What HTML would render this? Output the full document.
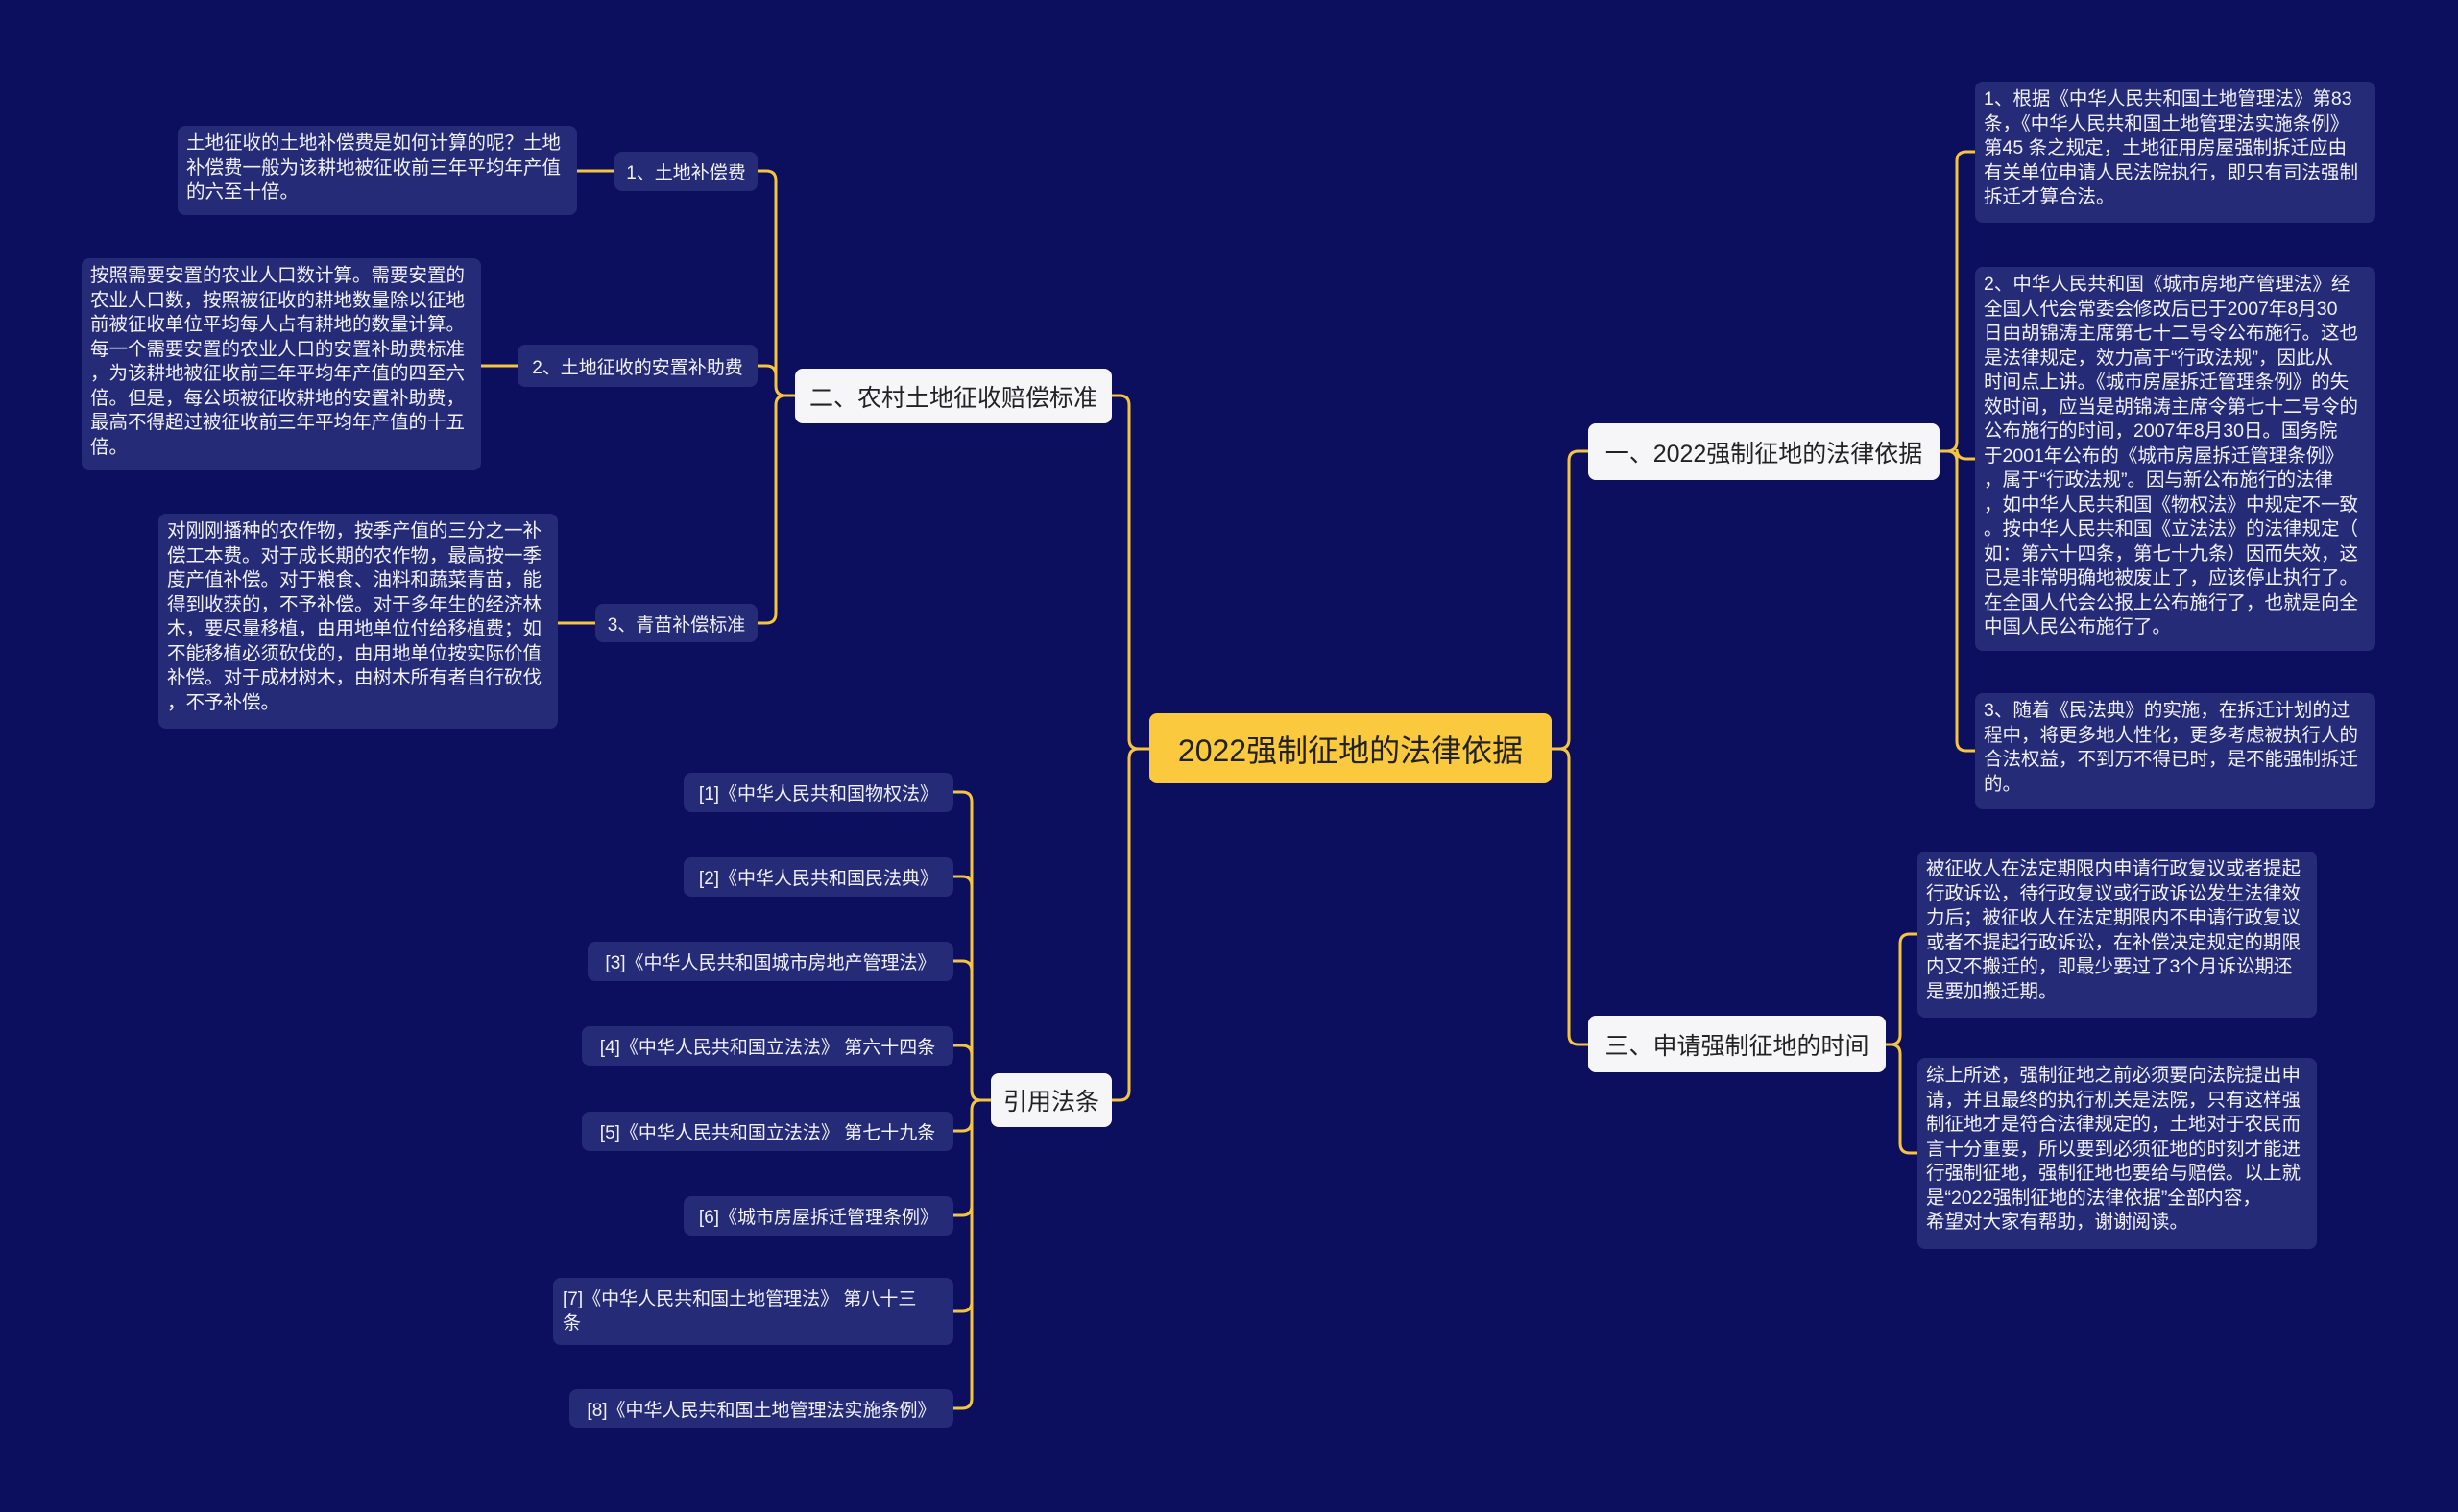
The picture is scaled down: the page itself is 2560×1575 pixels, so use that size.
<!DOCTYPE html>
<html><head><meta charset="utf-8"><style>
html,body{margin:0;padding:0;}
body{width:2560px;height:1575px;background:#0c0f5e;position:relative;overflow:hidden;font-family:"Liberation Sans","Noto Sans CJK SC",sans-serif;}
.n{position:absolute;box-sizing:border-box;border-radius:8px;}
.w{background:#f6f6f8;color:#222;font-size:25px;display:flex;align-items:center;justify-content:center;white-space:nowrap;}
.s{background:#262b78;color:#f0f0f8;font-size:19px;display:flex;align-items:center;justify-content:center;white-space:nowrap;}
.t{background:#262b78;color:#f0f0f8;font-size:19.5px;line-height:25.5px;padding:6px 9px;white-space:pre-line;}
.c{background:#fbc93e;color:#222;font-size:32px;display:flex;align-items:center;justify-content:center;white-space:nowrap;}
svg{position:absolute;left:0;top:0;}
</style></head><body>
<svg id="sv" width="2560" height="1575"></svg>

<div class="n c" style="left:1197px;top:743px;width:419px;height:73px">2022强制征地的法律依据</div>

<div class="n w" style="left:828px;top:384px;width:330px;height:57px">二、农村土地征收赔偿标准</div>
<div class="n s" style="left:640px;top:158px;width:149px;height:41px">1、土地补偿费</div>
<div class="n s" style="left:539px;top:359px;width:250px;height:44px">2、土地征收的安置补助费</div>
<div class="n s" style="left:620px;top:629px;width:169px;height:40px">3、青苗补偿标准</div>
<div class="n t" style="left:185px;top:131px;width:416px;height:93px">土地征收的土地补偿费是如何计算的呢？土地
补偿费一般为该耕地被征收前三年平均年产值
的六至十倍。</div>
<div class="n t" style="left:85px;top:269px;width:416px;height:221px">按照需要安置的农业人口数计算。需要安置的
农业人口数，按照被征收的耕地数量除以征地
前被征收单位平均每人占有耕地的数量计算。
每一个需要安置的农业人口的安置补助费标准
，为该耕地被征收前三年平均年产值的四至六
倍。但是，每公顷被征收耕地的安置补助费，
最高不得超过被征收前三年平均年产值的十五
倍。</div>
<div class="n t" style="left:165px;top:535px;width:416px;height:224px">对刚刚播种的农作物，按季产值的三分之一补
偿工本费。对于成长期的农作物，最高按一季
度产值补偿。对于粮食、油料和蔬菜青苗，能
得到收获的，不予补偿。对于多年生的经济林
木，要尽量移植，由用地单位付给移植费；如
不能移植必须砍伐的，由用地单位按实际价值
补偿。对于成材树木，由树木所有者自行砍伐
，不予补偿。</div>

<div class="n w" style="left:1032px;top:1118px;width:126px;height:56px">引用法条</div>
<div class="n s" style="left:712px;top:805px;width:281px;height:41px">[1]《中华人民共和国物权法》</div>
<div class="n s" style="left:712px;top:893px;width:281px;height:41px">[2]《中华人民共和国民法典》</div>
<div class="n s" style="left:612px;top:981px;width:381px;height:41px">[3]《中华人民共和国城市房地产管理法》</div>
<div class="n s" style="left:606px;top:1069px;width:387px;height:41px">[4]《中华人民共和国立法法》 第六十四条</div>
<div class="n s" style="left:606px;top:1158px;width:387px;height:41px">[5]《中华人民共和国立法法》 第七十九条</div>
<div class="n s" style="left:712px;top:1246px;width:281px;height:41px">[6]《城市房屋拆迁管理条例》</div>
<div class="n s" style="left:576px;top:1331px;width:417px;height:70px;white-space:pre-line;justify-content:flex-start;padding-left:10px;line-height:25px;text-align:left">[7]《中华人民共和国土地管理法》 第八十三
条</div>
<div class="n s" style="left:593px;top:1447px;width:400px;height:40px">[8]《中华人民共和国土地管理法实施条例》</div>

<div class="n w" style="left:1654px;top:441px;width:366px;height:59px">一、2022强制征地的法律依据</div>
<div class="n t" style="left:2057px;top:85px;width:417px;height:147px">1、根据《中华人民共和国土地管理法》第83
条，《中华人民共和国土地管理法实施条例》
第45 条之规定，土地征用房屋强制拆迁应由
有关单位申请人民法院执行，即只有司法强制
拆迁才算合法。</div>
<div class="n t" style="left:2057px;top:278px;width:417px;height:400px">2、中华人民共和国《城市房地产管理法》经
全国人代会常委会修改后已于2007年8月30
日由胡锦涛主席第七十二号令公布施行。这也
是法律规定，效力高于“行政法规”，因此从
时间点上讲。《城市房屋拆迁管理条例》的失
效时间，应当是胡锦涛主席令第七十二号令的
公布施行的时间，2007年8月30日。国务院
于2001年公布的《城市房屋拆迁管理条例》
，属于“行政法规”。因与新公布施行的法律
，如中华人民共和国《物权法》中规定不一致
。按中华人民共和国《立法法》的法律规定（
如：第六十四条，第七十九条）因而失效，这
已是非常明确地被废止了，应该停止执行了。
在全国人代会公报上公布施行了，也就是向全
中国人民公布施行了。</div>
<div class="n t" style="left:2057px;top:722px;width:417px;height:121px">3、随着《民法典》的实施，在拆迁计划的过
程中，将更多地人性化，更多考虑被执行人的
合法权益，不到万不得已时，是不能强制拆迁
的。</div>

<div class="n w" style="left:1654px;top:1058px;width:310px;height:59px">三、申请强制征地的时间</div>
<div class="n t" style="left:1997px;top:887px;width:416px;height:173px">被征收人在法定期限内申请行政复议或者提起
行政诉讼，待行政复议或行政诉讼发生法律效
力后；被征收人在法定期限内不申请行政复议
或者不提起行政诉讼，在补偿决定规定的期限
内又不搬迁的，即最少要过了3个月诉讼期还
是要加搬迁期。</div>
<div class="n t" style="left:1997px;top:1102px;width:416px;height:199px">综上所述，强制征地之前必须要向法院提出申
请，并且最终的执行机关是法院，只有这样强
制征地才是符合法律规定的，土地对于农民而
言十分重要，所以要到必须征地的时刻才能进
行强制征地，强制征地也要给与赔偿。以上就
是“2022强制征地的法律依据”全部内容，
希望对大家有帮助，谢谢阅读。</div>

<script>
var sv=document.getElementById('sv'),d='';
function L(x1,y1,xm,x2,y2){var r=10;if(Math.abs(y2-y1)<2){d+='M'+x1+' '+y1+'H'+x2;return;}
var s=y2>y1?1:-1,dx=x2>x1?1:-1;
d+='M'+x1+' '+y1+'H'+(xm-dx*r)+'Q'+xm+' '+y1+' '+xm+' '+(y1+s*r)+'V'+(y2-s*r)+'Q'+xm+' '+y2+' '+(xm+dx*r)+' '+y2+'H'+x2;}
// center to main branches (left)
L(1197,780,1176,1158,412);L(1197,780,1176,1158,1146);
L(1616,780,1634,1654,470);L(1616,780,1634,1654,1088);
// left group
L(828,412,808,789,178);L(828,412,808,789,381);L(828,412,808,789,649);
d+='M640 178H601M539 381H501M620 649H581';
// refs
[825,913,1001,1089,1178,1266,1366,1467].forEach(function(y){L(1032,1146,1012,993,y);});
// right group 1
[158,478,782].forEach(function(y){L(2020,470,2038,2057,y);});
[973,1201].forEach(function(y){L(1964,1088,1979,1997,y);});
sv.innerHTML='<path d="'+d+'" fill="none" stroke="#f5c440" stroke-width="3"/>';
</script>
</body></html>
